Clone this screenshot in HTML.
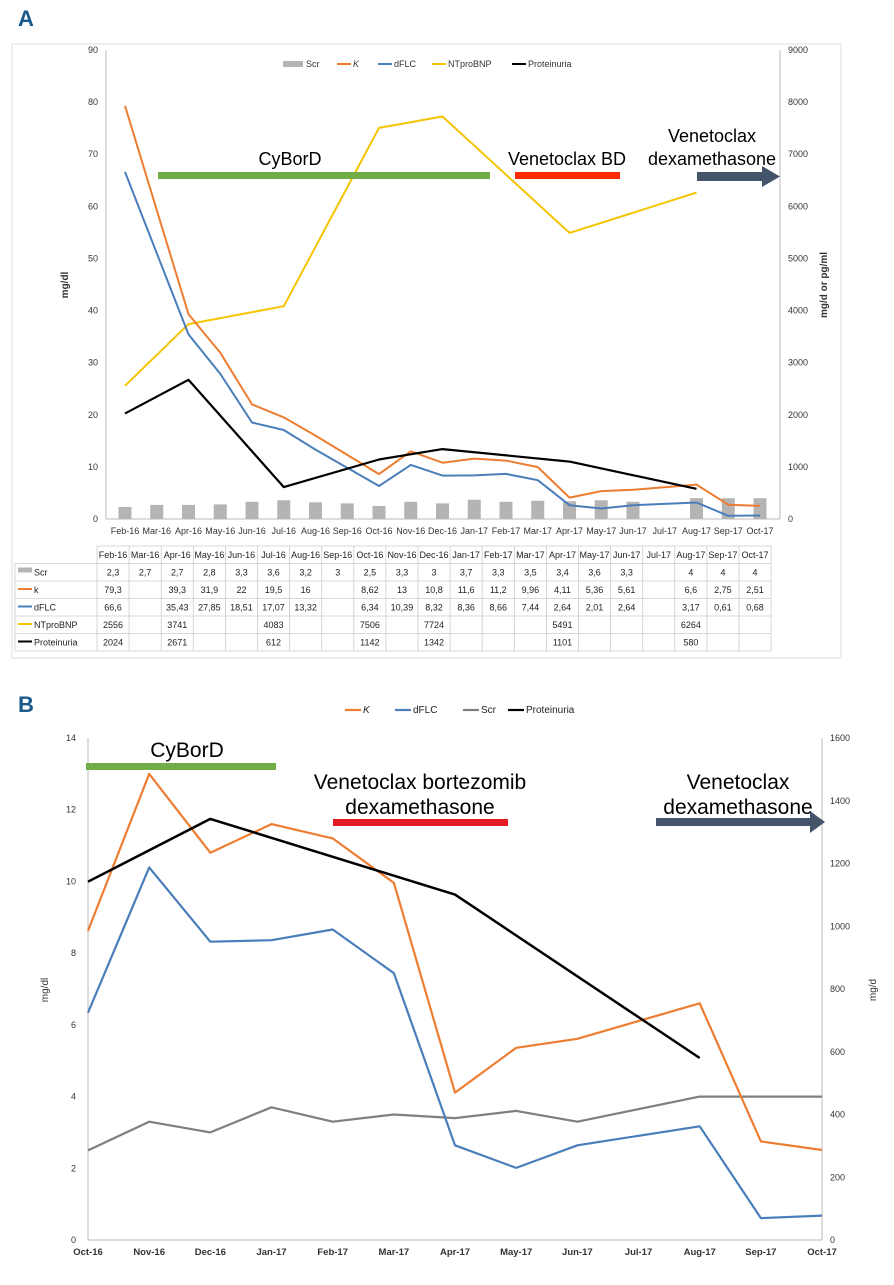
<!DOCTYPE html>
<html><head><meta charset="utf-8"><style>
body{margin:0;background:#fff;font-family:"Liberation Sans Narrow","Liberation Sans",sans-serif;}
svg text{font-family:"Liberation Sans Narrow","Liberation Sans",sans-serif;}
</style></head><body>
<svg id="s" width="894" height="1280" xmlns="http://www.w3.org/2000/svg">
<text x="18" y="26" font-size="22" font-weight="bold" fill="#1a5a8a">A</text>
<rect x="12" y="44" width="829" height="614" fill="none" stroke="#ddd"/>
<text x="18" y="712" font-size="22" font-weight="bold" fill="#1a5a8a">B</text>
<g id="ga"></g><g id="gb"></g>
</svg>
<script>
const monthsA=["Feb-16","Mar-16","Apr-16","May-16","Jun-16","Jul-16","Aug-16","Sep-16","Oct-16","Nov-16","Dec-16","Jan-17","Feb-17","Mar-17","Apr-17","May-17","Jun-17","Jul-17","Aug-17","Sep-17","Oct-17"];
const scrA=[2.3,2.7,2.7,2.8,3.3,3.6,3.2,3,2.5,3.3,3,3.7,3.3,3.5,3.4,3.6,3.3,null,4,4,4];
const kA=[79.3,null,39.3,31.9,22,19.5,16,null,8.62,13,10.8,11.6,11.2,9.96,4.11,5.36,5.61,null,6.6,2.75,2.51];
const dflcA=[66.6,null,35.43,27.85,18.51,17.07,13.32,null,6.34,10.39,8.32,8.36,8.66,7.44,2.64,2.01,2.64,null,3.17,0.61,0.68];
const ntA=[2556,null,3741,null,null,4083,null,null,7506,null,7724,null,null,null,5491,null,null,null,6264,null,null];
const protA=[2024,null,2671,null,null,612,null,null,1142,null,1342,null,null,null,1101,null,null,null,580,null,null];
const leftTicksA=[0,10,20,30,40,50,60,70,80,90];
const rightTicksA=[0,1000,2000,3000,4000,5000,6000,7000,8000,9000];
const monthsB=["Oct-16","Nov-16","Dec-16","Jan-17","Feb-17","Mar-17","Apr-17","May-17","Jun-17","Jul-17","Aug-17","Sep-17","Oct-17"];
const kB=[8.62,13,10.8,11.6,11.2,9.96,4.11,5.36,5.61,null,6.6,2.75,2.51];
const dflcB=[6.34,10.39,8.32,8.36,8.66,7.44,2.64,2.01,2.64,null,3.17,0.61,0.68];
const scrB=[2.5,3.3,3,3.7,3.3,3.5,3.4,3.6,3.3,null,4,4,4];
const protB=[1142,null,1342,null,null,null,1101,null,null,null,580,null,null];
const leftTicksB=[0,2,4,6,8,10,12,14];
const rightTicksB=[0,200,400,600,800,1000,1200,1400,1600];

const NS="http://www.w3.org/2000/svg";
function el(p,tag,attrs,txt){const e=document.createElementNS(NS,tag);for(const k in attrs)e.setAttribute(k,attrs[k]);if(txt!=null)e.textContent=txt;p.appendChild(e);return e;}
function line(p,pts,color,w,name){const d=pts.filter(q=>q).map((q,i)=>(i?"L":"M")+q[0].toFixed(1)+","+q[1].toFixed(1)).join("");const e=el(p,"path",{d:d,fill:"none",stroke:color,"stroke-width":w,"stroke-linejoin":"round"});

}

// ---- Chart A ----
const ga=document.getElementById('ga');
const xA=i=>125+i*31.75, yL=v=>519-v*(469/90), yR=v=>519-v*(469/9000);
el(ga,"line",{x1:106,y1:50,x2:106,y2:519,stroke:"#bbb"});
el(ga,"line",{x1:780,y1:50,x2:780,y2:519,stroke:"#bbb"});
el(ga,"line",{x1:106,y1:519,x2:780,y2:519,stroke:"#bbb"});
leftTicksA.forEach(v=>{const t=el(ga,"text",{x:98,y:yL(v)+3,"font-size":9,"text-anchor":"end",fill:"#333"},v);

});
rightTicksA.forEach(v=>{const t=el(ga,"text",{x:788,y:yR(v)+3,"font-size":9,fill:"#333"},v);

});
monthsA.forEach((m,i)=>{const t=el(ga,"text",{x:xA(i),y:534,"font-size":9,"text-anchor":"middle",fill:"#333"},m);

});
let t1=el(ga,"text",{x:0,y:0,"font-size":10,"font-weight":"bold",transform:"translate(68,285) rotate(-90)","text-anchor":"middle",fill:"#333"},"mg/dl");


let t2=el(ga,"text",{x:0,y:0,"font-size":10,"font-weight":"bold",transform:"translate(827,285) rotate(-90)","text-anchor":"middle",fill:"#333"},"mg/d or pg/ml");


scrA.forEach((v,i)=>{if(v==null)return;const r=el(ga,"rect",{x:xA(i)-6.5,y:yL(v),width:13,height:519-yL(v),fill:"#b4b4b4"});

});
const ptsA=(arr,f)=>arr.map((v,i)=>v==null?null:[xA(i),f(v)]);
line(ga,ptsA(ntA,yR),"#f5c400",2,"ntprobnp-line");
line(ga,ptsA(kA,yL),"#ed7d31",2,"kappa-line");
line(ga,ptsA(dflcA,yL),"#4a7ebb",2,"dflc-line");
line(ga,ptsA(protA,yR),"#000",2.2,"proteinuria-line");
el(ga,"rect",{x:158,y:172,width:332,height:7,fill:"#70ad47",});
el(ga,"text",{x:290,y:165,"font-size":18,"text-anchor":"middle",fill:"#000",},"CyBorD");
el(ga,"rect",{x:515,y:172,width:105,height:7,fill:"#ff2a00",});
el(ga,"text",{x:567,y:165,"font-size":18,"text-anchor":"middle",fill:"#000",},"Venetoclax BD");
el(ga,"text",{x:712,y:142,"font-size":18,"text-anchor":"middle",fill:"#000",},"Venetoclax");
el(ga,"text",{x:712,y:165,"font-size":18,"text-anchor":"middle",fill:"#000",},"dexamethasone");
el(ga,"path",{d:"M697,172 L762,172 L762,166 L780,176.5 L762,187 L762,181 L697,181Z",fill:"#44546a",});
const legA=[["Scr","#b4b4b4",283,"rect"],["K","#ed7d31",337,"l"],["dFLC","#4a7ebb",378,"l"],["NTproBNP","#f5c400",432,"l"],["Proteinuria","#000",512,"l"]];
legA.forEach(l=>{const g=el(ga,"g",{});


if(l[3]=="rect")el(g,"rect",{x:l[2],y:61,width:20,height:6,fill:l[1]});else el(g,"line",{x1:l[2],y1:64,x2:l[2]+14,y2:64,stroke:l[1],"stroke-width":2});
el(g,"text",{x:l[2]+(l[3]=="rect"?23:16),y:67,"font-size":9,fill:"#333","font-style":l[0]=="K"?"italic":"normal"},l[0]);});
const tx0=15,tcx=97,tcw=32.1,ty0=546,rh=17.5;
const rows=[["Scr",scrA,"#b4b4b4"],["k",kA,"#ed7d31"],["dFLC",dflcA,"#4a7ebb"],["NTproBNP",ntA,"#f5c400"],["Proteinuria",protA,"#000"]];
const tg=el(ga,"g",{});
for(let r=0;r<=6;r++){const y=ty0+r*rh;el(tg,"line",{x1:r==0?tcx:tx0,y1:y,x2:tcx+21*tcw,y2:y,stroke:"#ccc","stroke-width":0.8});}
for(let c=0;c<=21;c++){el(tg,"line",{x1:tcx+c*tcw,y1:ty0,x2:tcx+c*tcw,y2:ty0+6*rh,stroke:"#ccc","stroke-width":0.8});}
el(tg,"line",{x1:tx0,y1:ty0+rh,x2:tx0,y2:ty0+6*rh,stroke:"#ccc","stroke-width":0.8});
monthsA.forEach((m,i)=>el(tg,"text",{x:tcx+i*tcw+tcw/2,y:ty0+12,"font-size":9,"text-anchor":"middle",fill:"#222"},m));
rows.forEach((row,r)=>{const y=ty0+(r+1)*rh+12;
if(r==0)el(tg,"rect",{x:18,y:y-8,width:14,height:5,fill:row[2]});else el(tg,"line",{x1:18,y1:y-4,x2:32,y2:y-4,stroke:row[2],"stroke-width":2});
el(tg,"text",{x:34,y:y,"font-size":9,fill:"#222"},row[0]);
row[1].forEach((v,i)=>{if(v==null)return;el(tg,"text",{x:tcx+i*tcw+tcw/2,y:y,"font-size":9,"text-anchor":"middle",fill:"#222"},String(v).replace(".",","));});});

// ---- Chart B ----
const gb=document.getElementById('gb');
const xB=i=>88+i*61.17, yBL=v=>1240-v*(502/14), yBR=v=>1240-v*(502/1600);
el(gb,"line",{x1:88,y1:738,x2:88,y2:1240,stroke:"#bbb"});
el(gb,"line",{x1:822,y1:738,x2:822,y2:1240,stroke:"#bbb"});
el(gb,"line",{x1:88,y1:1240,x2:822,y2:1240,stroke:"#bbb"});
leftTicksB.forEach(v=>{const t=el(gb,"text",{x:76,y:yBL(v)+3,"font-size":9,"text-anchor":"end",fill:"#333"},v);

});
rightTicksB.forEach(v=>{const t=el(gb,"text",{x:830,y:yBR(v)+3,"font-size":9,fill:"#333"},v);

});
monthsB.forEach((m,i)=>{const t=el(gb,"text",{x:xB(i),y:1255,"font-size":9.5,"font-weight":"bold","text-anchor":"middle",fill:"#333"},m);

});
let t3=el(gb,"text",{x:0,y:0,"font-size":10,transform:"translate(48,990) rotate(-90)","text-anchor":"middle",fill:"#333"},"mg/dl");


let t4=el(gb,"text",{x:0,y:0,"font-size":10,transform:"translate(876,990) rotate(-90)","text-anchor":"middle",fill:"#333"},"mg/d");


const ptsB=(arr,f)=>arr.map((v,i)=>v==null?null:[xB(i),f(v)]);
line(gb,ptsB(scrB,yBL),"#7f7f7f",2.2,"scr-line-b");
line(gb,ptsB(kB,yBL),"#ed7d31",2.2,"kappa-line-b");
line(gb,ptsB(dflcB,yBL),"#4a7ebb",2.2,"dflc-line-b");
line(gb,ptsB(protB,yBR),"#000",2.5,"proteinuria-line-b");
el(gb,"rect",{x:86,y:763,width:190,height:7,fill:"#70ad47",});
el(gb,"text",{x:187,y:757,"font-size":21,"text-anchor":"middle",fill:"#000",},"CyBorD");
el(gb,"text",{x:420,y:789,"font-size":21,"text-anchor":"middle",fill:"#000",},"Venetoclax bortezomib");
el(gb,"text",{x:420,y:814,"font-size":21,"text-anchor":"middle",fill:"#000",},"dexamethasone");
el(gb,"rect",{x:333,y:819,width:175,height:7,fill:"#e31b23",});
el(gb,"text",{x:738,y:789,"font-size":21,"text-anchor":"middle",fill:"#000",},"Venetoclax");
el(gb,"text",{x:738,y:814,"font-size":21,"text-anchor":"middle",fill:"#000",},"dexamethasone");
el(gb,"path",{d:"M656,818 L810,818 L810,811 L825,822 L810,833 L810,826 L656,826Z",fill:"#44546a",});
const legB=[["K","#ed7d31",345],["dFLC","#4a7ebb",395],["Scr","#7f7f7f",463],["Proteinuria","#000",508]];
legB.forEach(l=>{const g=el(gb,"g",{});


el(g,"line",{x1:l[2],y1:710,x2:l[2]+16,y2:710,stroke:l[1],"stroke-width":2.2});
el(g,"text",{x:l[2]+18,y:713,"font-size":10,fill:"#222","font-style":l[0]=="K"?"italic":"normal"},l[0]);});
</script>
</body></html>
